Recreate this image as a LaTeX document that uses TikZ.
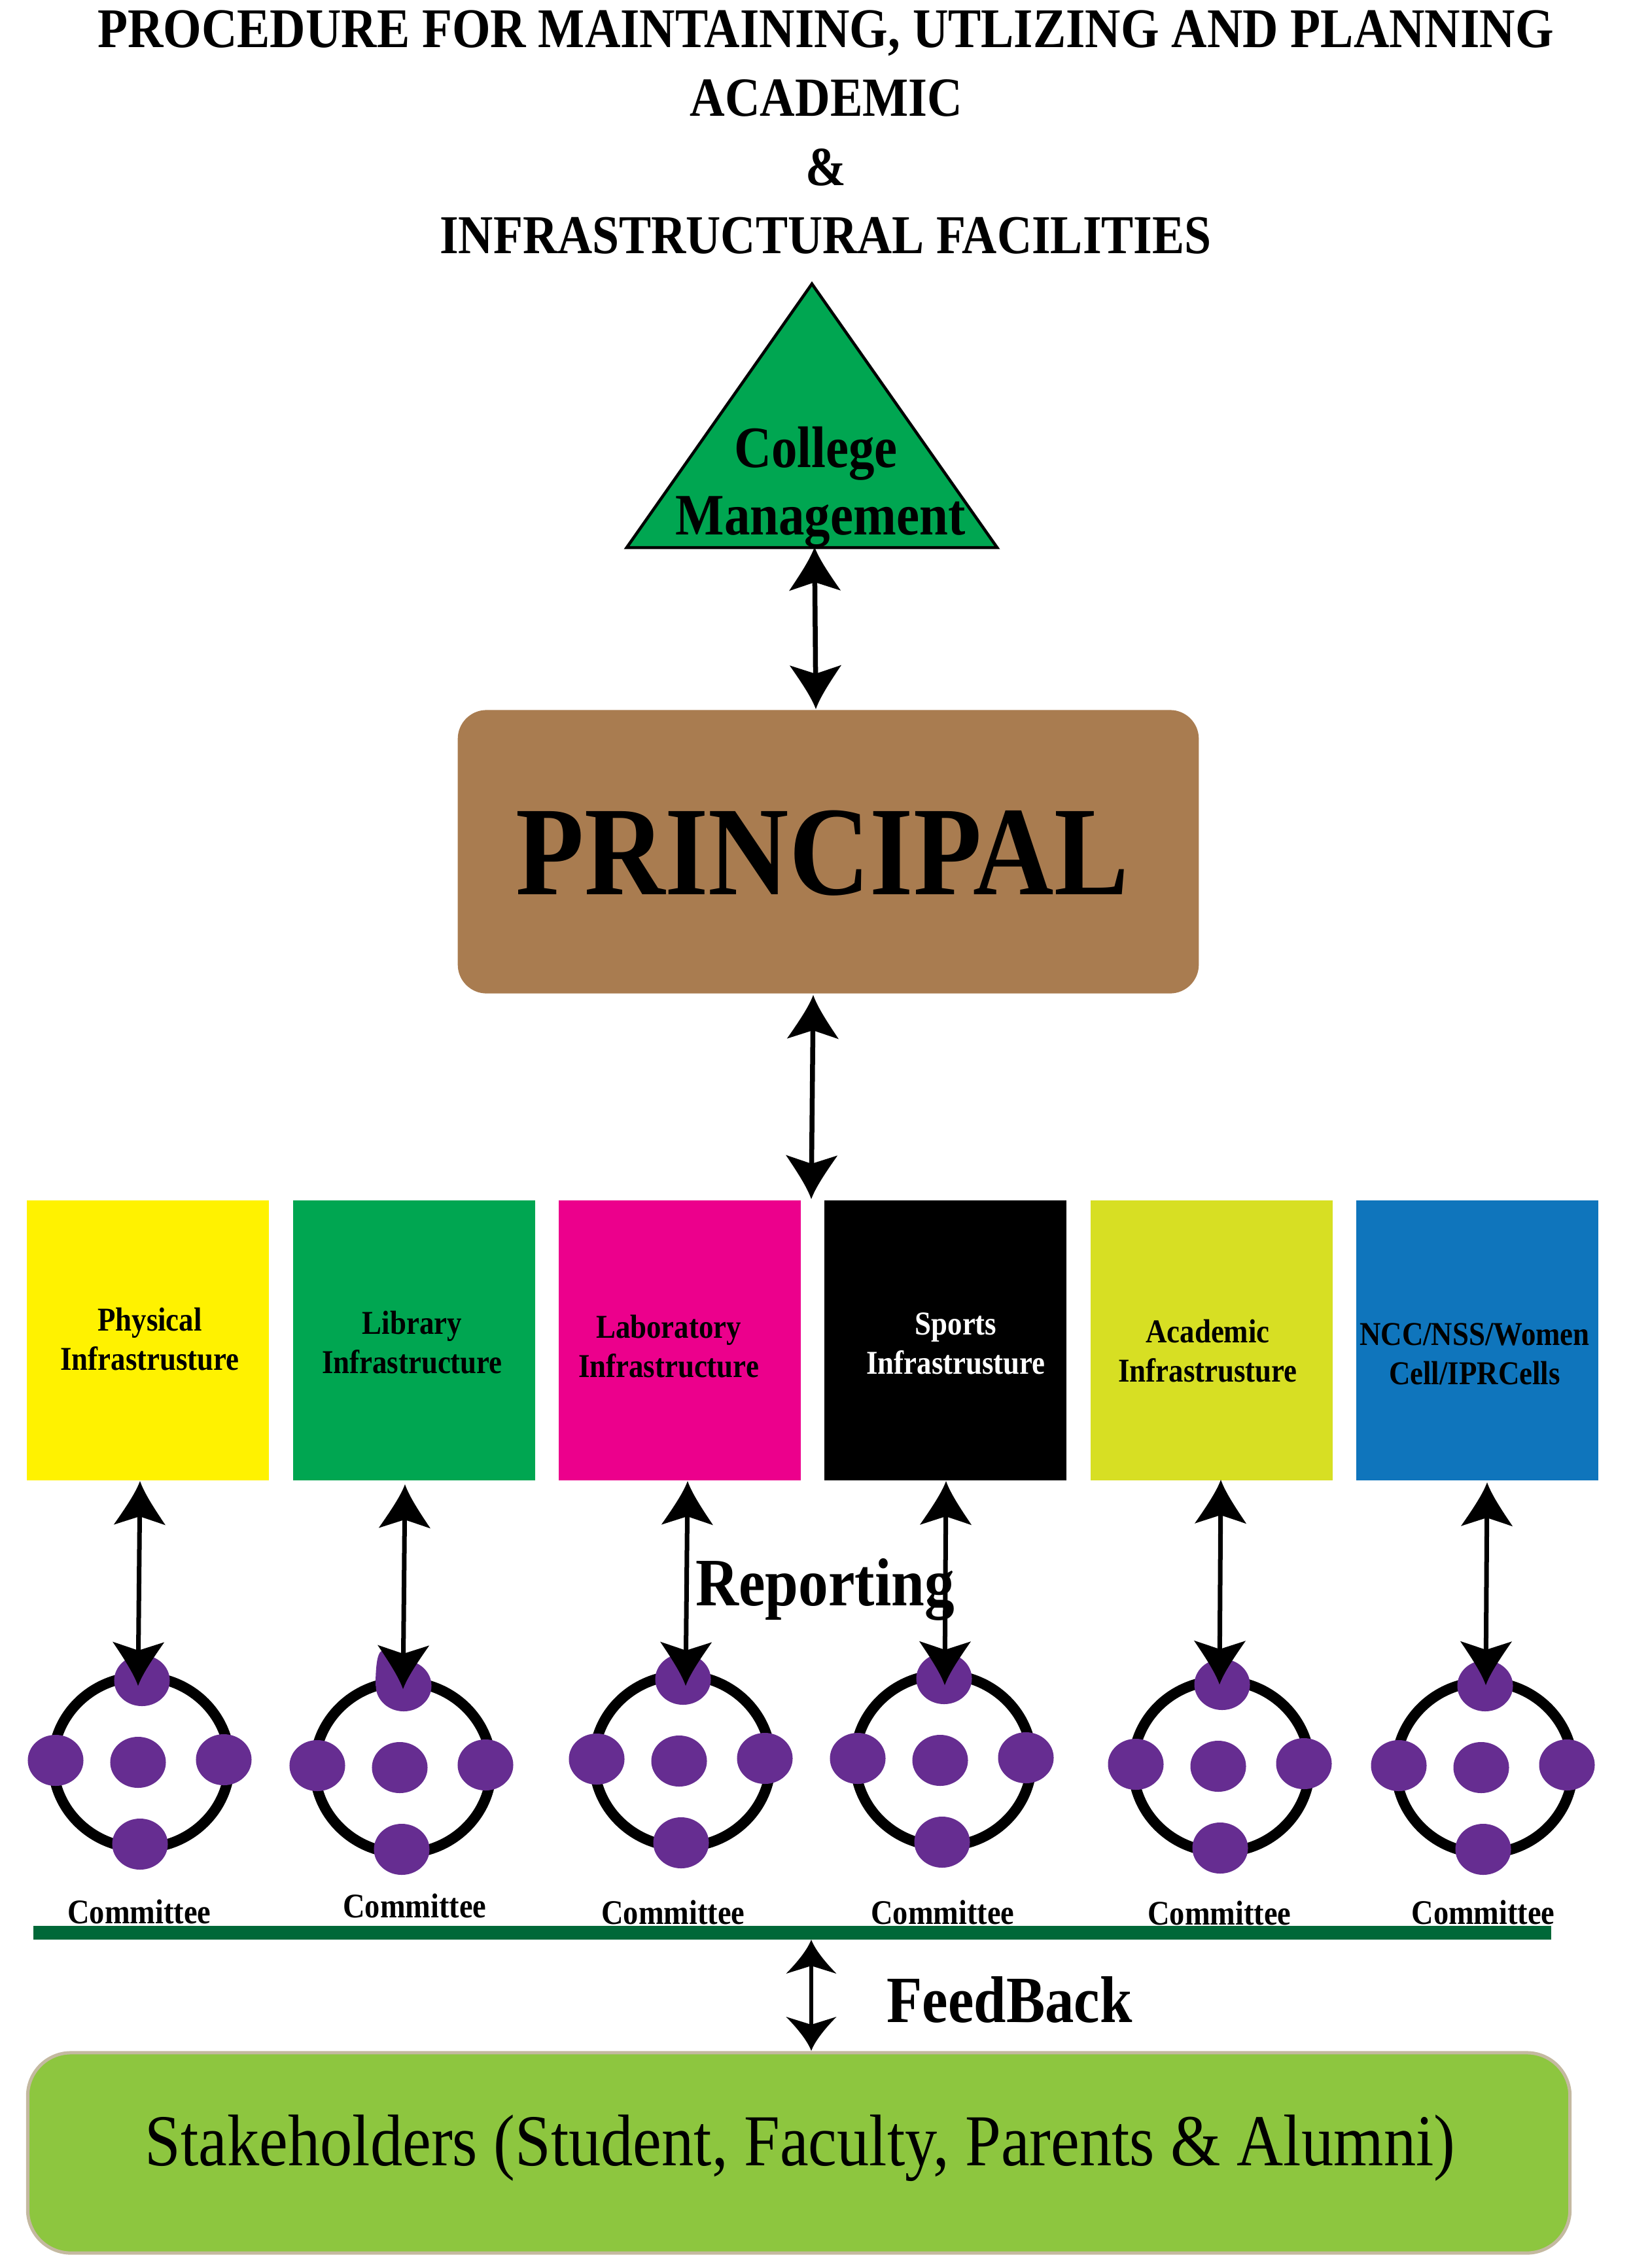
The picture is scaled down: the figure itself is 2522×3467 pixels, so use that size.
\documentclass[tikz,border=0pt]{standalone}
\usepackage{fontspec}
\setmainfont{Liberation Serif}[FakeStretch=0.88]
\usetikzlibrary{arrows,shapes}
\newcommand{\dotw}{0.85cm}
\newcommand{\doth}{0.78cm}
% arrow tip with hollow sides: tip length, half width
\pgfarrowsdeclare{bigtip}{bigtip}
{\pgfarrowsleftextend{-0.13cm}\pgfarrowsrightextend{0.54cm}}
{
    \pgfpathmoveto{\pgfqpoint{0.54cm}{0cm}}
    \pgfpathcurveto{\pgfqpoint{0.36cm}{0.065cm}}{\pgfqpoint{0.14cm}{0.21cm}}{\pgfqpoint{-0.13cm}{0.395cm}}
    \pgfpathlineto{\pgfqpoint{0cm}{0cm}}
    \pgfpathlineto{\pgfqpoint{-0.13cm}{-0.395cm}}
    \pgfpathcurveto{\pgfqpoint{0.14cm}{-0.21cm}}{\pgfqpoint{0.36cm}{-0.065cm}}{\pgfqpoint{0.54cm}{0cm}}
    \pgfusepathqfill
}
\pgfarrowsdeclare{slimtip}{slimtip}
{\pgfarrowsleftextend{-0.12cm}\pgfarrowsrightextend{0.40cm}}
{
    \pgfpathmoveto{\pgfqpoint{0.40cm}{0cm}}
    \pgfpathcurveto{\pgfqpoint{0.27cm}{0.05cm}}{\pgfqpoint{0.10cm}{0.17cm}}{\pgfqpoint{-0.12cm}{0.385cm}}
    \pgfpathlineto{\pgfqpoint{0cm}{0cm}}
    \pgfpathlineto{\pgfqpoint{-0.12cm}{-0.385cm}}
    \pgfpathcurveto{\pgfqpoint{0.10cm}{-0.17cm}}{\pgfqpoint{0.27cm}{-0.05cm}}{\pgfqpoint{0.40cm}{0cm}}
    \pgfusepathqfill
}
\definecolor{mgreen}{HTML}{00A651}
\definecolor{mbrown}{HTML}{A97C50}
\definecolor{myellow}{HTML}{FFF200}
\definecolor{mpink}{HTML}{EC008C}
\definecolor{mlime}{HTML}{D7DF23}
\definecolor{mblue}{HTML}{0F75BC}
\definecolor{mpurple}{HTML}{662D91}
\definecolor{mbar}{HTML}{006838}
\definecolor{mleaf}{HTML}{8DC63F}
\definecolor{mrim}{HTML}{C4B9A0}
\tikzset{
    TitleStyle/.style = {font = \fontsize{24}{24}\selectfont\bfseries, inner sep = 0pt},
    MgmtText/.style = {font = \fontsize{25.5}{25.5}\selectfont\bfseries, inner sep = 0pt},
    UnitStyle/.style = {rectangle, draw = none, minimum width = 3.69cm, minimum height = 4.28cm, inner sep = 0pt},
    UnitText/.style = {font = \fontsize{14.5}{17}\selectfont\bfseries, align = center, inner sep = 0pt},
    DotStyle/.style = {ellipse, fill = mpurple, minimum width = \dotw, minimum height = \doth, inner sep = 0pt},
    RingStyle/.style = {ellipse, draw = black, line width = 0.16cm, minimum width = 2.7cm, minimum height = 2.62cm, inner sep = 0pt},
    CommText/.style = {font = \fontsize{15}{15}\selectfont\bfseries, inner sep = 0pt},
    BigArrow/.style = {bigtip-bigtip, line width = 0.075cm},
    SmallArrow/.style = {bigtip-bigtip, line width = 0.07cm},
    SlimArrow/.style = {slimtip-slimtip, line width = 0.06cm},
}

\begin{document}
\begin{tikzpicture}[x = 0.01cm, y = -0.01cm]
    \useasboundingbox (0, 0) rectangle (2522, 3467);

    \node[TitleStyle, font = \fontsize{24.35}{24.35}\selectfont\bfseries] (title1) at (1262, 51) {PROCEDURE FOR MAINTAINING, UTLIZING AND PLANNING};
    \node[TitleStyle] (title2) at (1263, 150) {ACADEMIC};
    \node[TitleStyle] (title3) at (1262, 256) {\&};
    \node[TitleStyle, font = \fontsize{23.8}{23.8}\selectfont\bfseries] (title4) at (1262, 360) {INFRASTRUCTURAL FACILITIES};

    \node[isosceles triangle, isosceles triangle stretches, shape border rotate = 90, draw = black, fill = mgreen,
        line width = 0.045cm, minimum width = 5.66cm, minimum height = 4.03cm, inner sep = 0pt] (mgmt) at (1241, 690) {};
    \node[MgmtText] (mgmttext1) at (1247, 693) {College};
    \node[MgmtText] (mgmttext2) at (1254, 798) {Management};

    \node[rectangle, rounded corners = 0.44cm, fill = mbrown, minimum width = 11.32cm, minimum height = 4.33cm, inner sep = 0pt] (principal) at (1266, 1302) {};
    \node[font = \fontsize{55.2}{55.2}\selectfont\bfseries, inner sep = 0pt] (principaltext) at (1257, 1304) {PRINCIPAL};

    \coordinate (a1) at (1245, 836);
    \coordinate (a2) at (1247, 1084);
    \coordinate (a3) at (1243, 1521);
    \coordinate (a4) at (1240, 1833);
    \draw[BigArrow] (a1) -- (a2);
    \draw[BigArrow] (a3) -- (a4);

    \node[UnitStyle, fill = myellow] (unit1) at (226, 2049) {};
    \node[UnitStyle, fill = mgreen] (unit2) at (633, 2049) {};
    \node[UnitStyle, fill = mpink] (unit3) at (1039, 2049) {};
    \node[UnitStyle, fill = black] (unit4) at (1445, 2049) {};
    \node[UnitStyle, fill = mlime] (unit5) at (1852, 2049) {};
    \node[UnitStyle, fill = mblue] (unit6) at (2258, 2049) {};
    \node[UnitText] (unittext1) at (229, 2047) {Physical\\Infrastrusture};
    \node[UnitText] (unittext2) at (630, 2052) {Library\\Infrastructure};
    \node[UnitText] (unittext3) at (1022, 2058) {Laboratory\\Infrastructure};
    \node[UnitText, text = white] (unittext4) at (1461, 2054) {Sports\\Infrastrusture};
    \node[UnitText] (unittext5) at (1846, 2065) {Academic\\Infrastrusture};
    \node[UnitText] (unittext6) at (2254, 2070) {NCC/NSS/Women\\Cell/IPRCells};

    \begin{scope}[shift = {(211, 2694)}]
        \node[RingStyle] (r1) at (5, 0) {};
        \node[DotStyle] (c10) at (0, 0) {};
        \node[DotStyle] (c11) at (6, -125) {};
        \node[DotStyle] (c12) at (3, 125) {};
        \node[DotStyle] (c13) at (-126, -3) {};
        \node[DotStyle] (c14) at (131, -4) {};
        \coordinate (p1) at (3, -430);
        \coordinate (q1) at (0, -117);
        \draw[SmallArrow] (p1) -- (q1);
    \end{scope}

    \begin{scope}[shift = {(611, 2702)}]
        \node[RingStyle] (r2) at (5, 0) {};
        \node[DotStyle] (c20) at (0, 0) {};
        \node[DotStyle] (c21) at (6, -125) {};
        \node[DotStyle] (c22) at (3, 125) {};
        \node[DotStyle] (c23) at (-126, -3) {};
        \node[DotStyle] (c24) at (131, -4) {};
        \fill[mpurple] (-37, -125) .. controls (-37, -150) and (-35, -175) .. (-28, -178)
            .. controls (-18, -180) and (0, -170) .. (6, -150) -- (6, -100) -- cycle;
        \coordinate (p2) at (8, -433);
        \coordinate (q2) at (5, -120);
        \draw[SmallArrow] (p2) -- (q2);
    \end{scope}

    \begin{scope}[shift = {(1038, 2692)}]
        \node[RingStyle] (r3) at (5, 0) {};
        \node[DotStyle] (c30) at (0, 0) {};
        \node[DotStyle] (c31) at (6, -125) {};
        \node[DotStyle] (c32) at (3, 125) {};
        \node[DotStyle] (c33) at (-126, -3) {};
        \node[DotStyle] (c34) at (131, -4) {};
        \coordinate (p3) at (13, -428);
        \coordinate (q3) at (10, -115);
        \draw[SmallArrow] (p3) -- (q3);
    \end{scope}

    \begin{scope}[shift = {(1437, 2691)}]
        \node[RingStyle] (r4) at (5, 0) {};
        \node[DotStyle] (c40) at (0, 0) {};
        \node[DotStyle] (c41) at (6, -125) {};
        \node[DotStyle] (c42) at (3, 125) {};
        \node[DotStyle] (c43) at (-126, -3) {};
        \node[DotStyle] (c44) at (131, -4) {};
        \coordinate (p4) at (9, -427);
        \coordinate (q4) at (7, -115);
        \draw[SmallArrow] (p4) -- (q4);
    \end{scope}

    \begin{scope}[shift = {(1862, 2700)}]
        \node[RingStyle] (r5) at (5, 0) {};
        \node[DotStyle] (c50) at (0, 0) {};
        \node[DotStyle] (c51) at (6, -125) {};
        \node[DotStyle] (c52) at (3, 125) {};
        \node[DotStyle] (c53) at (-126, -3) {};
        \node[DotStyle] (c54) at (131, -4) {};
        \coordinate (p5) at (4, -438);
        \coordinate (q5) at (2, -125);
        \draw[SmallArrow] (p5) -- (q5);
    \end{scope}

    \begin{scope}[shift = {(2264, 2702)}]
        \node[RingStyle] (r6) at (5, 0) {};
        \node[DotStyle] (c60) at (0, 0) {};
        \node[DotStyle] (c61) at (6, -125) {};
        \node[DotStyle] (c62) at (3, 125) {};
        \node[DotStyle] (c63) at (-126, -3) {};
        \node[DotStyle] (c64) at (131, -4) {};
        \coordinate (p6) at (9, -436);
        \coordinate (q6) at (7, -126);
        \draw[SmallArrow] (p6) -- (q6);
    \end{scope}

    \node[font = \fontsize{29.5}{29.5}\selectfont\bfseries, inner sep = 0pt] (reporting) at (1261, 2430) {Reporting};

    \node[CommText] (comm1) at (213, 2922) {Committee};
    \node[CommText] (comm2) at (634, 2913) {Committee};
    \node[CommText] (comm3) at (1029, 2923) {Committee};
    \node[CommText] (comm4) at (1441, 2923) {Committee};
    \node[CommText] (comm5) at (1864, 2924) {Committee};
    \node[CommText] (comm6) at (2267, 2923) {Committee};

    \node[rectangle, fill = mbar, minimum width = 23.19cm, minimum height = 0.21cm, inner sep = 0pt] (bar) at (1211, 2954) {};

    \node[rectangle, rounded corners = 0.66cm, draw = mrim, fill = mleaf, line width = 0.05cm,
        minimum width = 23.56cm, minimum height = 3.06cm, inner sep = 0pt] (stake) at (1221, 3291) {};
    \node[font = \fontsize{31.8}{31.8}\selectfont, inner sep = 0pt] (staketext) at (1223, 3284) {Stakeholders (Student, Faculty, Parents \& Alumni)};
    \node[font = \fontsize{28.7}{28.7}\selectfont\bfseries, inner sep = 0pt] (feedback) at (1543, 3057) {FeedBack};

    \coordinate (f1) at (1240, 2965);
    \coordinate (f2) at (1240, 3135);
    \draw[SlimArrow] (f1) -- (f2);
\end{tikzpicture}
\end{document}
